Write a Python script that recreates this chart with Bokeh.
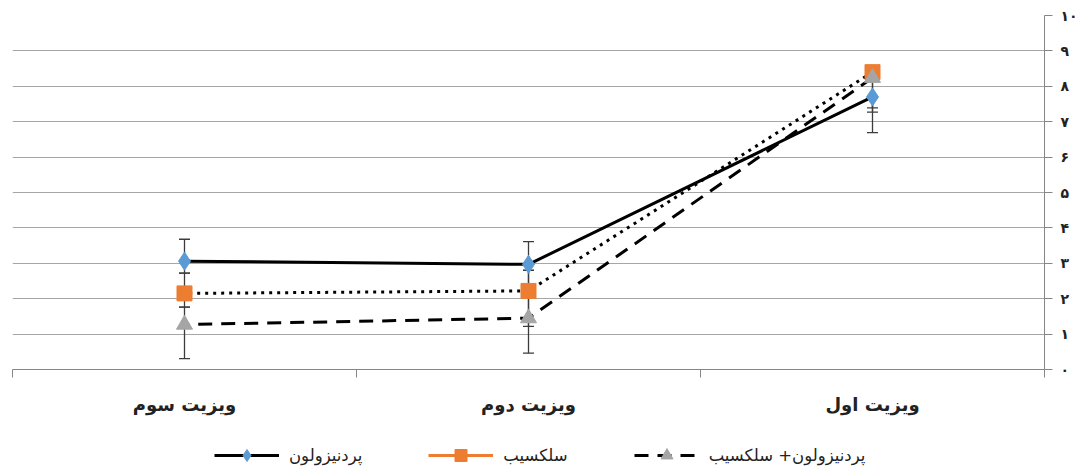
from bokeh.plotting import figure
from bokeh.layouts import column
from bokeh.models import (ColumnDataSource, Whisker, TeeHead, FixedTicker, Range1d,
                          Legend, LegendItem)
from bokeh.embed import file_html
from bokeh.resources import INLINE

# ---------------- data ----------------
categories = ["ویزیت اول", "ویزیت دوم", "ویزیت سوم"]
series_names = ["پردنیزولون", "سلکسیب", "پردنیزولون+ سلکسیب"]

prednisolone = [7.70, 2.97, 3.06]
celecoxib = [8.40, 2.22, 2.15]
combination = [8.24, 1.45, 1.27]

pred_low = [6.69, 2.80, 2.72]
pred_high = [7.70, 3.61, 3.68]
cel_low = [7.27, 1.22, 1.76]
cel_high = [8.40, 2.80, 2.72]
comb_low = [7.39, 0.46, 0.31]
comb_high = [8.24, 2.80, 1.76]

y_ticks = [0, 1, 2, 3, 4, 5, 6, 7, 8, 9, 10]
y_tick_labels = ["۰", "۱", "۲", "۳", "۴", "۵", "۶", "۷", "۸", "۹", "۱۰"]

# ---------------- positions ----------------
xs = [i + 0.5 for i in range(len(categories))]
bounds = [float(i) for i in range(len(categories) + 1)]

FONT = "DejaVu Sans"
GRID = "#a6a6a6"
AXIS = "#868686"
BLUE, ORANGE, GRAY = "#5b9bd5", "#ed7d31", "#a5a5a5"

p = figure(frame_width=1032, frame_height=354,
           x_range=Range1d(len(categories), 0), y_range=Range1d(0, 10),
           y_axis_location="right", output_backend="svg", toolbar_location=None,
           min_border_left=12, min_border_top=15, min_border_right=33, min_border_bottom=52,
           background_fill_color="white", border_fill_color="white")
p.outline_line_color = None

# x axis
xa = p.xaxis[0]
xa.ticker = FixedTicker(ticks=xs, minor_ticks=bounds)
xa.major_label_overrides = {x: c for x, c in zip(xs, categories)}
xa.major_tick_out = 0
xa.major_tick_in = 0
xa.minor_tick_out = 8
xa.minor_tick_in = 0
xa.minor_tick_line_color = AXIS
xa.axis_line_color = AXIS
xa.major_label_text_font = FONT
xa.major_label_text_font_size = "18px"
xa.major_label_text_font_style = "bold"
xa.major_label_text_color = "#222222"
xa.major_label_standoff = 16
xa.major_label_orientation = "horizontal"

# y axis (right)
ya = p.yaxis[0]
ya.ticker = FixedTicker(ticks=y_ticks)
ya.major_label_overrides = {t: l for t, l in zip(y_ticks, y_tick_labels)}
ya.major_tick_out = 8
ya.major_tick_in = 0
ya.minor_tick_line_color = None
ya.axis_line_color = AXIS
ya.major_tick_line_color = AXIS
ya.major_label_text_font = FONT
ya.major_label_text_font_size = "14px"
ya.major_label_text_font_style = "bold"
ya.major_label_text_color = "#222222"
ya.major_label_standoff = 8

p.xgrid.grid_line_color = None
p.ygrid.ticker = FixedTicker(ticks=y_ticks)
p.ygrid.grid_line_color = GRID
p.ygrid.grid_line_width = 1

# error bars
ERR = "#3c3c3c"
for lo, hi in [(pred_low, pred_high), (cel_low, cel_high), (comb_low, comb_high)]:
    src = ColumnDataSource(dict(x=xs, lower=lo, upper=hi))
    w = Whisker(base="x", lower="lower", upper="upper", source=src, dimension="height",
                line_color=ERR, line_width=1.3,
                lower_head=TeeHead(size=11, line_color=ERR, line_width=1.3),
                upper_head=TeeHead(size=11, line_color=ERR, line_width=1.3))
    p.add_layout(w)

# lines
p.line(xs, prednisolone, line_color="black", line_width=3)
p.line(xs, celecoxib, line_color="black", line_width=3, line_dash="3 5")
p.line(xs, combination, line_color="black", line_width=3, line_dash="14 9")

# markers
p.scatter(xs, prednisolone, marker="diamond", size=18, fill_color=BLUE, line_color=BLUE)
p.scatter(xs, celecoxib, marker="square", size=15, fill_color=ORANGE, line_color=ORANGE)
p.scatter(xs, combination, marker="triangle", size=16, fill_color=GRAY, line_color=GRAY)

# ---------------- legend strip (separate figure below the chart) ----------------
lf = figure(width=1077, height=51, output_backend="svg", toolbar_location=None,
            x_axis_location=None, y_axis_location=None,
            min_border_left=0, min_border_right=0, min_border_top=0, min_border_bottom=0,
            background_fill_color="white", border_fill_color="white")
lf.outline_line_color = None
lf.xgrid.visible = False
lf.ygrid.visible = False

r1l = lf.line(xs, prednisolone, line_color="black", line_width=3, visible=False)
r1m = lf.scatter(xs, prednisolone, marker="diamond", size=17, fill_color=BLUE,
                 line_color=BLUE, visible=False)
r2l = lf.line(xs, celecoxib, line_color=ORANGE, line_width=3, visible=False)
r2m = lf.scatter(xs, celecoxib, marker="square", size=15, fill_color=ORANGE,
                 line_color=ORANGE, visible=False)
r3l = lf.line(xs, combination, line_color="black", line_width=3, line_dash="14 9",
              visible=False)
r3m = lf.scatter(xs, combination, marker="triangle", size=16, fill_color=GRAY,
                 line_color=GRAY, visible=False)

legend = Legend(items=[
    LegendItem(label=series_names[0], renderers=[r1l, r1m]),
    LegendItem(label=series_names[1], renderers=[r2l, r2m]),
    LegendItem(label=series_names[2], renderers=[r3l, r3m]),
], orientation="horizontal", location=(202, 2),
    glyph_width=65, glyph_height=30, label_height=30, label_standoff=10,
    spacing=66, padding=0, margin=0,
    label_text_font=FONT, label_text_font_size="16.5px", label_text_color="#222222",
    border_line_color=None, background_fill_alpha=0, inactive_fill_alpha=0)
lf.add_layout(legend, "center")

layout = column(p, lf, spacing=0)
open("out.html", "w").write(file_html(layout, INLINE))
